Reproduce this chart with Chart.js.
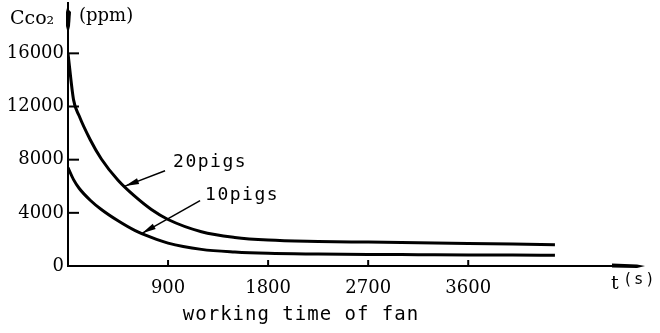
<!DOCTYPE html>
<html>
<head>
<meta charset="utf-8">
<script src="https://cdn.jsdelivr.net/npm/chart.js@4/dist/chart.umd.min.js"></script>
<style>
  html, body { margin: 0; padding: 0; background: #fff; }
  #wrap { width: 660px; height: 333px; }
</style>
</head>
<body>
<div id="wrap"><canvas id="c" width="660" height="333"></canvas></div>
<script>
// ---- data ----
const timeSec = [0, 50, 100, 200, 300, 450, 600, 750, 900, 1200, 1500, 1800, 2250, 2700, 3150, 3600, 4000, 4380];
const pigs20 = [16000, 12500, 11300, 9500, 8050, 6450, 5250, 4250, 3500, 2580, 2150, 1950, 1850, 1800, 1750, 1700, 1650, 1600];
const pigs10 = [7400, 6500, 5850, 4950, 4250, 3400, 2680, 2150, 1720, 1250, 1050, 950, 900, 870, 850, 830, 820, 800];
const xTickValues = [900, 1800, 2700, 3600];
const yTickValues = [0, 4000, 8000, 12000, 16000];
const seriesNames = ['20pigs', '10pigs'];
const xAxisTitle = 'working time of fan';
const yAxisTitle = 'Cco\u2082';
const yUnit = '(ppm)';
const xUnitT = 't';
const xUnitS = '(s)';
// label anchor (data coords) and the curve point each leader arrow points to
const leaders = [
  { text: seriesNames[0], labelAt: [945, 7800], from: [873, 7170], to: [513, 6010] },
  { text: seriesNames[1], labelAt: [1233, 5280], from: [1188, 4920], to: [666, 2460] }
];

const tickFont = { family: 'DejaVu Serif', size: 18 };

const drawPlugin = {
  id: 'sketch',
  afterDraw(chart) {
    const { ctx, scales: { x, y }, chartArea } = chart;
    const x0 = x.getPixelForValue(0), y0 = y.getPixelForValue(0);
    const right = chartArea.right;
    ctx.save();
    ctx.strokeStyle = '#000';
    ctx.fillStyle = '#000';
    ctx.lineWidth = 2;
    // axes
    ctx.beginPath();
    ctx.moveTo(x0, 2);
    ctx.lineTo(x0, y0);
    ctx.lineTo(right - 8, y0);
    ctx.stroke();
    // x arrow
    ctx.beginPath();
    ctx.moveTo(right - 33, y0 - 2.5);
    ctx.lineTo(right - 8, y0 - 1.5);
    ctx.lineTo(right, y0);
    ctx.lineTo(right - 8, y0 + 2);
    ctx.lineTo(right - 33, y0 + 1.5);
    ctx.closePath();
    ctx.fill();
    // y arrow wedge
    ctx.beginPath();
    ctx.moveTo(x0 - 1, 8);
    ctx.lineTo(x0 + 3, 12);
    ctx.lineTo(x0 + 2, 26);
    ctx.lineTo(x0, 34);
    ctx.lineTo(x0 - 2, 26);
    ctx.lineTo(x0 - 2, 12);
    ctx.closePath();
    ctx.fill();
    // y tick marks
    yTickValues.slice(1).forEach(v => {
      const py = y.getPixelForValue(v);
      ctx.beginPath();
      ctx.moveTo(x0, py);
      ctx.lineTo(x0 + 11, py);
      ctx.stroke();
    });
    // x tick marks
    xTickValues.forEach(v => {
      const px = x.getPixelForValue(v);
      ctx.beginPath();
      ctx.moveTo(px, y0 - 6);
      ctx.lineTo(px, y0 + 1);
      ctx.stroke();
    });
    // leader arrows and series labels
    leaders.forEach(l => {
      const fx = x.getPixelForValue(l.from[0]), fy = y.getPixelForValue(l.from[1]);
      const tx = x.getPixelForValue(l.to[0]), ty = y.getPixelForValue(l.to[1]);
      ctx.lineWidth = 1.5;
      ctx.beginPath();
      ctx.moveTo(fx, fy);
      ctx.lineTo(tx, ty);
      ctx.stroke();
      const ang = Math.atan2(ty - fy, tx - fx);
      const L = 14, W = 3;
      ctx.beginPath();
      ctx.moveTo(tx, ty);
      ctx.lineTo(tx - L * Math.cos(ang) + W * Math.sin(ang), ty - L * Math.sin(ang) - W * Math.cos(ang));
      ctx.lineTo(tx - L * Math.cos(ang) - W * Math.sin(ang), ty - L * Math.sin(ang) + W * Math.cos(ang));
      ctx.closePath();
      ctx.fill();
      ctx.font = '18px "DejaVu Sans Mono"';
      try { ctx.letterSpacing = '1.5px'; } catch (e) {}
      ctx.textAlign = 'left';
      ctx.textBaseline = 'middle';
      ctx.fillText(l.text, x.getPixelForValue(l.labelAt[0]), y.getPixelForValue(l.labelAt[1]));
      try { ctx.letterSpacing = '0px'; } catch (e) {}
    });
    // axis titles
    ctx.textBaseline = 'middle';
    ctx.textAlign = 'left';
    ctx.font = '19px "DejaVu Serif"';
    ctx.fillText(yAxisTitle, 10, 19);
    ctx.font = '18px "DejaVu Serif"';
    ctx.fillText(yUnit, x0 + 11, 16);
    ctx.font = '19px "DejaVu Serif"';
    ctx.fillText(xUnitT, right - 34, 284);
    ctx.font = '15px "DejaVu Sans"';
    try { ctx.letterSpacing = '4px'; } catch (e) {}
    ctx.fillText(xUnitS, right - 20, 280);
    ctx.font = '19px "DejaVu Sans Mono"';
    try { ctx.letterSpacing = '1px'; } catch (e) {}
    ctx.textAlign = 'center';
    ctx.fillText(xAxisTitle, 301, 315);
    ctx.restore();
  }
};

new Chart(document.getElementById('c'), {
  type: 'line',
  data: {
    labels: timeSec,
    datasets: [
      { label: seriesNames[0], data: timeSec.map((t, i) => ({ x: t, y: pigs20[i] })) },
      { label: seriesNames[1], data: timeSec.map((t, i) => ({ x: t, y: pigs10[i] })) }
    ].map(d => Object.assign(d, {
      borderColor: '#000', borderWidth: 3, pointRadius: 0, fill: false,
      cubicInterpolationMode: 'monotone'
    }))
  },
  options: {
    responsive: false,
    animation: false,
    events: [],
    layout: { padding: { top: 5, right: 15, left: 0, bottom: 0 } },
    plugins: { legend: { display: false }, tooltip: { enabled: false }, title: { display: false } },
    scales: {
      x: {
        type: 'linear', min: 0, max: 5190,
        afterBuildTicks: s => { s.ticks = xTickValues.map(v => ({ value: v })); },
        afterFit: s => { s.height = 67; },
        grid: { display: false, drawTicks: false },
        border: { display: false },
        ticks: { font: tickFont, color: '#000', padding: 12, maxRotation: 0, autoSkip: false,
                 callback: v => String(v) }
      },
      y: {
        min: 0, max: 18900,
        afterBuildTicks: s => { s.ticks = yTickValues.map(v => ({ value: v })); },
        afterFit: s => { s.width = 68; },
        grid: { display: false, drawTicks: false },
        border: { display: false },
        ticks: { font: tickFont, color: '#000', padding: 4, autoSkip: false,
                 callback: v => String(v) }
      }
    }
  },
  plugins: [drawPlugin]
});
</script>
</body>
</html>
